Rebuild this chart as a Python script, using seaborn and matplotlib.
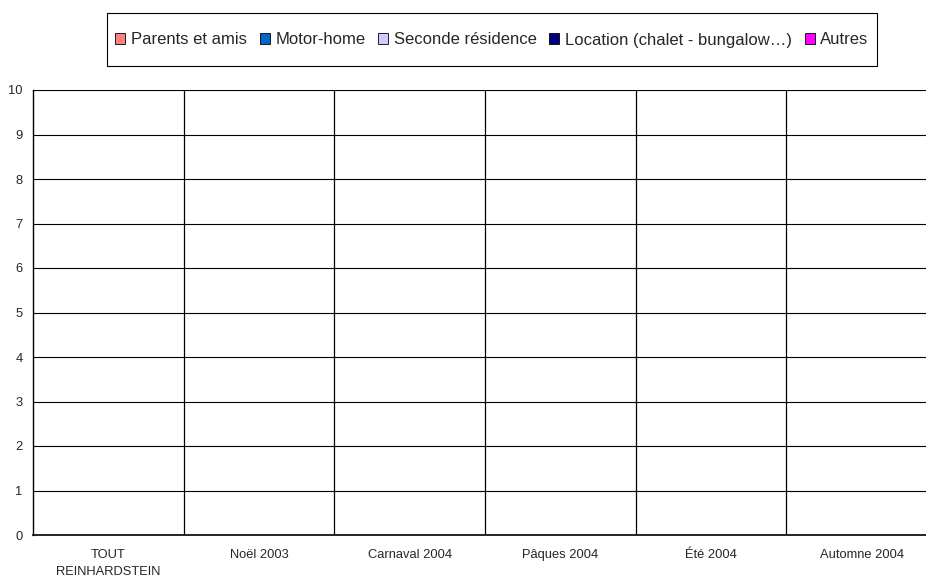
import pandas as pd
import numpy as np
import seaborn as sns
import matplotlib.pyplot as plt

# categories / series (all values are zero in the reference)
categories = ["TOUT\nREINHARDSTEIN", "Noël 2003", "Carnaval 2004", "Pâques 2004", "Été 2004", "Automne 2004"]
series = ["Parents et amis", "Motor-home", "Seconde résidence", "Location (chalet - bungalow…)", "Autres"]
colors = ["#FF8080", "#0066CC", "#CCCCFF", "#000080", "#FF00FF"]
parents = [0, 0, 0, 0, 0, 0]
motorhome = [0, 0, 0, 0, 0, 0]
seconde = [0, 0, 0, 0, 0, 0]
location = [0, 0, 0, 0, 0, 0]
autres = [0, 0, 0, 0, 0, 0]
yticks = list(range(0, 11))

sns.set_style("white")
plt.rcParams['font.family'] = ['Liberation Sans', 'DejaVu Sans']

rows = []
for name, vals in zip(series, [parents, motorhome, seconde, location, autres]):
    for cat, v in zip(categories, vals):
        rows.append({"periode": cat, "type": name, "valeur": v})
df = pd.DataFrame(rows)

fig = plt.figure(figsize=(9.26, 5.77), dpi=100)
ax = fig.add_axes([33/926, 1-535/577, (937-33)/926, (535-90)/577])

sns.barplot(data=df, x="periode", y="valeur", hue="type", palette=colors,
            order=categories, hue_order=series, ax=ax, edgecolor="black",
            linewidth=0.6, legend=False)

ax.set_ylim(0, 10)
ax.set_xlim(-0.5, len(categories) - 0.5)
ax.set_yticks(yticks)
ax.set_xlabel("")
ax.set_ylabel("")

# horizontal gridlines
for y in yticks:
    ax.axhline(y, color="black", lw=0.8, zorder=0.5)
# vertical separators between categories
bounds = np.arange(len(categories) + 1) - 0.5
ax.set_xticks(bounds, minor=True)
for b in bounds[1:]:
    ax.axvline(b, color="black", lw=0.9, zorder=0.5)
ax.tick_params(axis="x", which="major", length=0, labelsize=9.3, pad=16.5)
ax.tick_params(axis="x", which="minor", length=3.5, width=0.8, direction="out", color="black")
ax.tick_params(axis="y", length=3.5, width=0.8, direction="out", color="black", labelsize=9.3, pad=4)
for lab in ax.get_xticklabels():
    lab.set_linespacing(1.6)
    lab.set_multialignment("center")
    lab.set_verticalalignment("baseline")
# two-line label: push it down so its first line sits on the common baseline
ax.get_xticklabels()[0].set_y(-17/445)

for s in ["top", "right"]:
    ax.spines[s].set_visible(False)
ax.spines["left"].set_color("black")
ax.spines["bottom"].set_color("black")
ax.spines["left"].set_linewidth(1.0)
ax.spines["bottom"].set_linewidth(1.2)

# legend without its own frame, box drawn around it
handles = [plt.Rectangle((0, 0), 1, 1, facecolor=c, edgecolor="black", lw=0.6) for c in colors]
leg = fig.legend(handles, series, loc="center", bbox_to_anchor=(492/926, 1-40/577),
                 ncol=5, frameon=False, fontsize=12,
                 handlelength=0.6, handleheight=0.6,
                 handletextpad=0.35, columnspacing=0.75, borderpad=0.3)
box = plt.Rectangle((107/926, 1-66/577), (877-107)/926, 53/577, transform=fig.transFigure,
                    fill=False, edgecolor="black", lw=0.8)
fig.add_artist(box)

fig.savefig("out.png", dpi=100)
